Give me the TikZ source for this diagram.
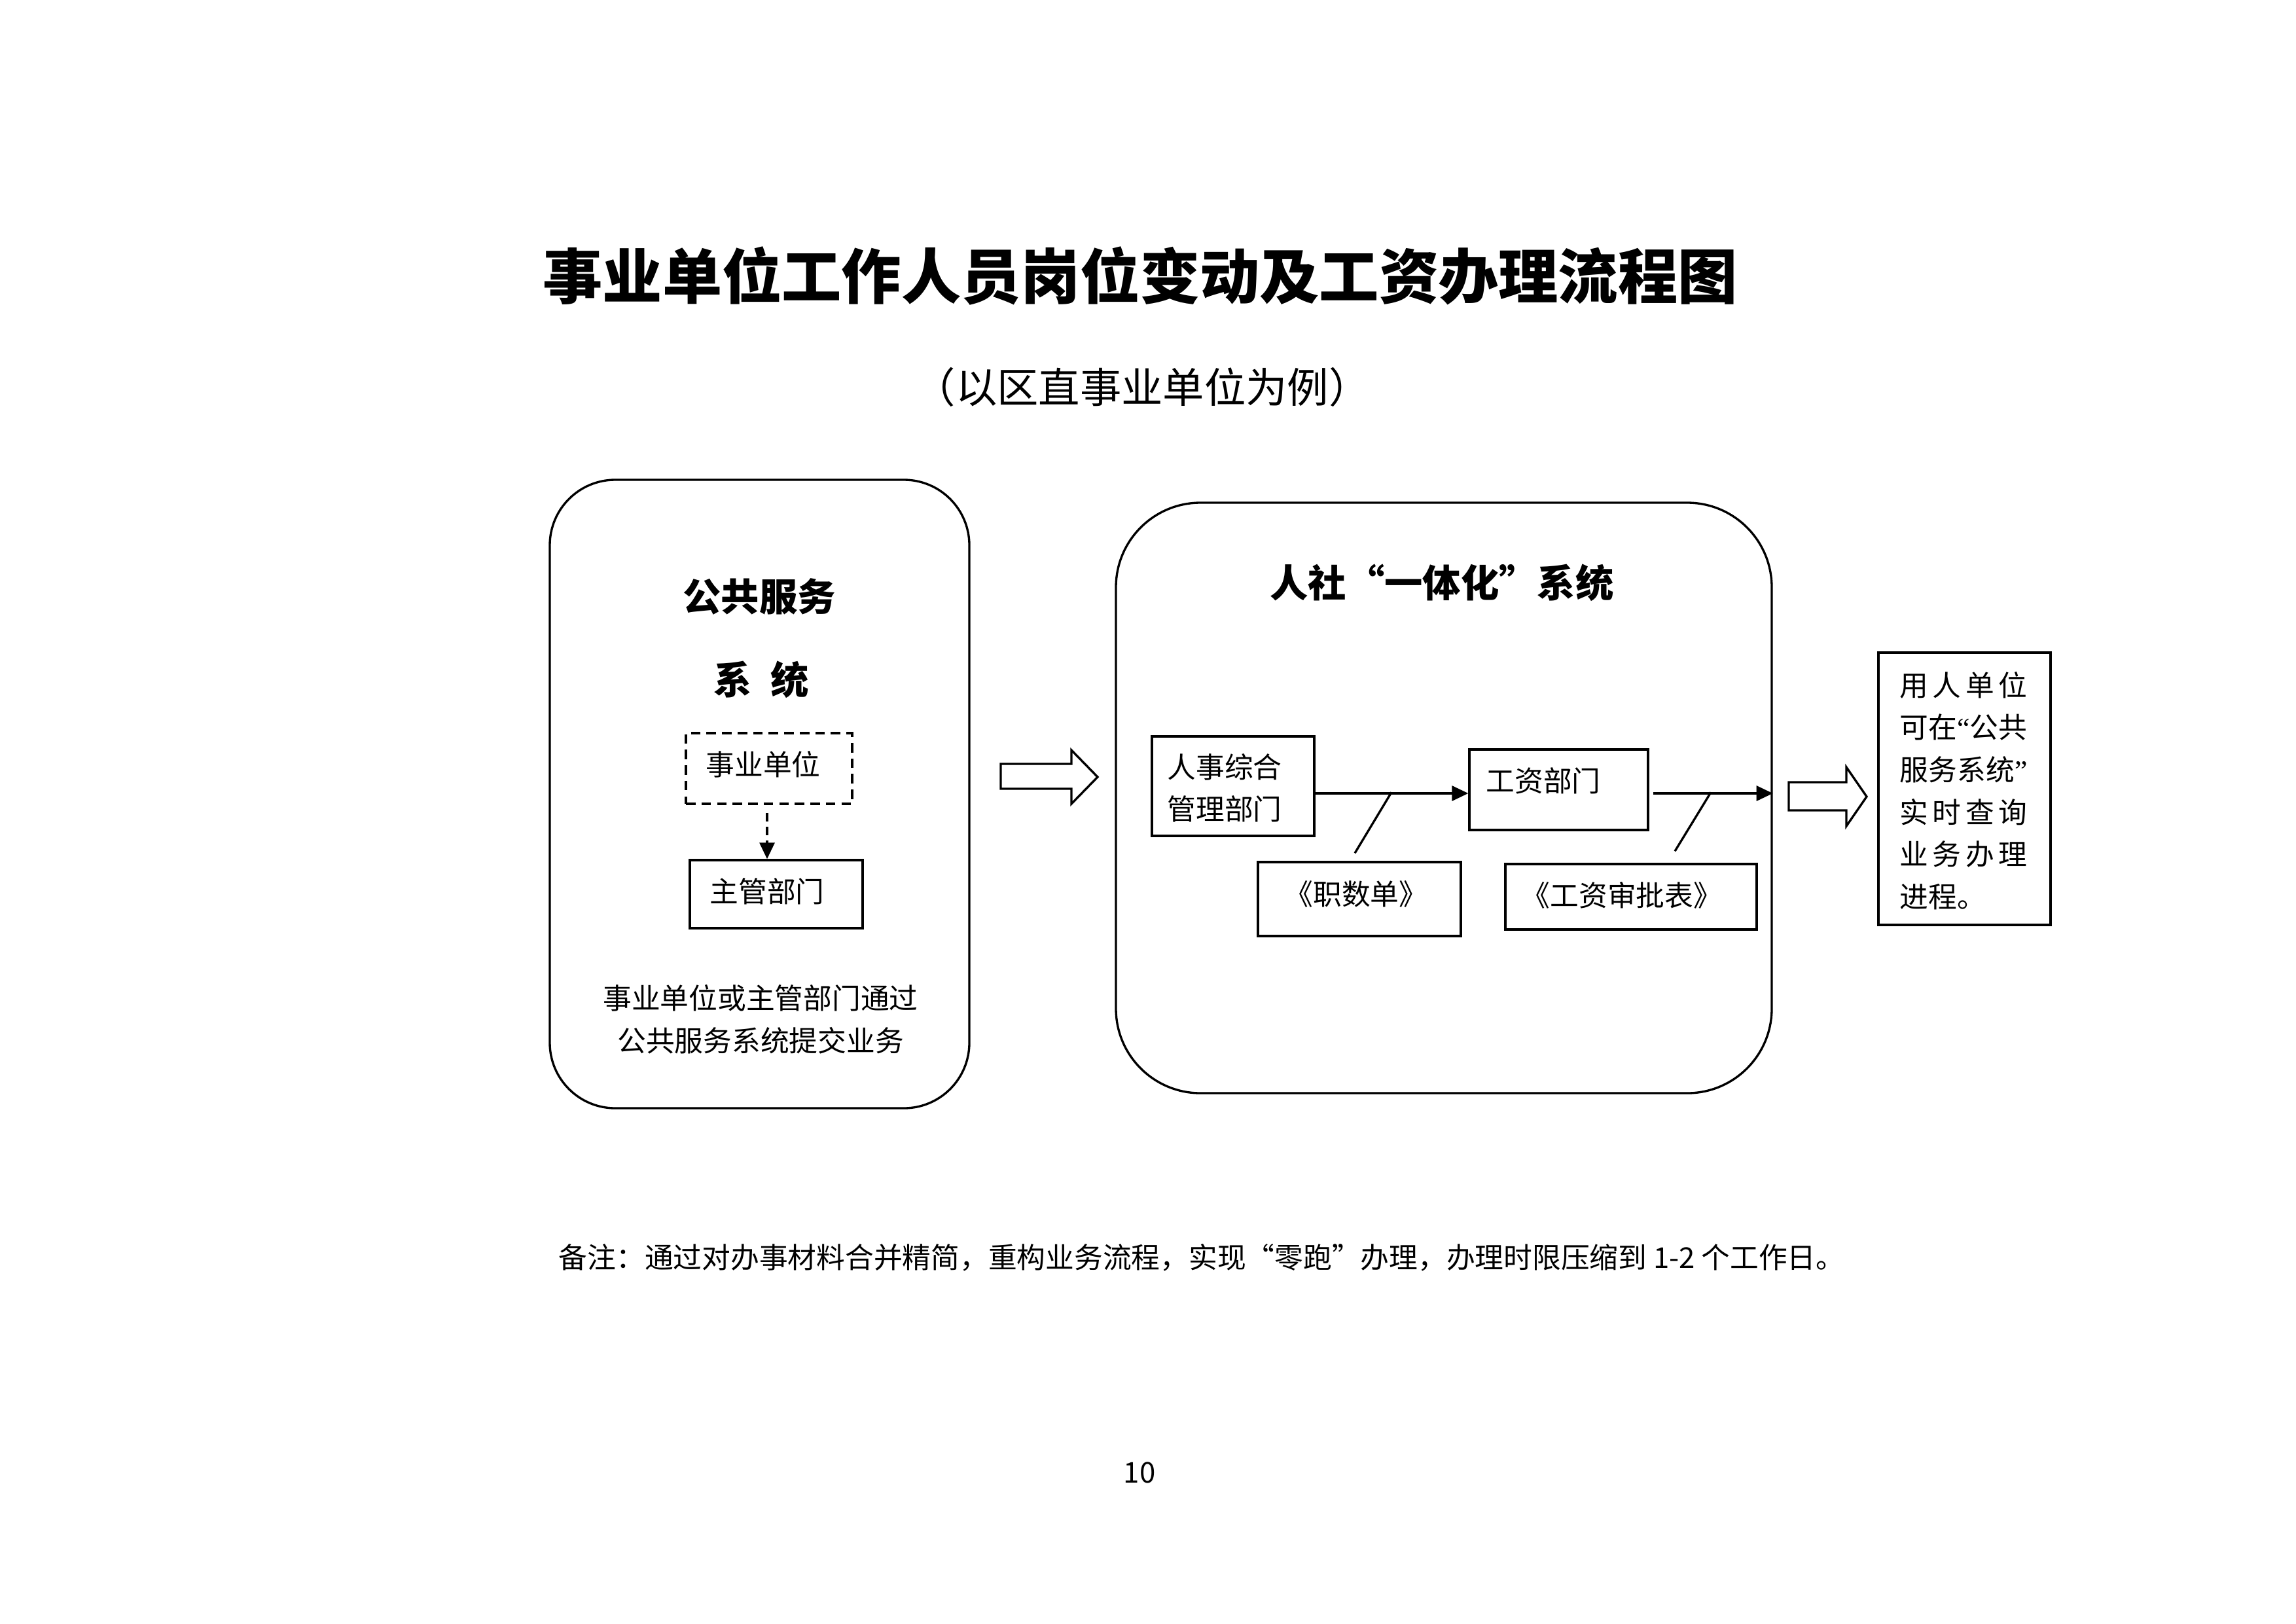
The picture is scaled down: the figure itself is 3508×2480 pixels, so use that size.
\documentclass[tikz,border=0pt]{standalone}
\usepackage{fontspec}
\setmainfont{Noto Sans CJK SC}
\newfontfamily\qfont{Liberation Serif}
\usetikzlibrary{arrows.meta,fit,calc}
\begin{document}
\begin{tikzpicture}[x=0.24pt,y=-0.24pt,
  box/.style={draw, line width=0.8pt, inner sep=0pt},
  dbox/.style={box, dash pattern=on 3.5pt off 2.2pt},
  rbox/.style={box, rounded corners=#1},
  txt/.style={inner sep=0pt, font=\fontsize{10.5}{15.5}\selectfont},
  btxt/.style={inner sep=0pt, font=\fontsize{14}{16}\selectfont\bfseries},
  arr/.style={line width=0.8pt, -{Triangle[length=6pt,width=5.5pt]}},
  conn/.style={line width=0.8pt},
  blockarrow/.style={line width=0.8pt, draw, fill=white}]
\useasboundingbox (0,0) rectangle (3508,2480);

% titles
\node[inner sep=0pt, font=\fontsize{21.9}{26}\selectfont\bfseries] (title) at (1742,421) {事业单位工作人员岗位变动及工资办理流程图};
\node[inner sep=0pt, font=\fontsize{15.2}{18}\selectfont] (subtitle) at (1745,591) {（以区直事业单位为例）};

% left rounded box
\node[rbox=24pt, fit={(840,733) (1481,1693)}] (L) {};
\node[btxt] (Lt1) at (1160,911) {公共服务};
\node[btxt] (Lt2) at (1163,1038) {系\hspace{0.5em}统};
\node[dbox, fit={(1048,1120) (1302,1228)}] (D) {};
\node[txt] (Dt) at (1166,1168) {事业单位};
\node[box, fit={(1054,1314) (1318,1418)}] (Z) {};
\node[txt] (Zt) at (1172,1362) {主管部门};
\draw[arr, dash pattern=on 3pt off 2pt, shorten <=3pt] (D.south -| 1172,0) -- (Z.north -| 1172,0);
\node[txt, align=center] (Lb) at (1162,1557) {事业单位或主管部门通过\\公共服务系统提交业务};

% block arrow 1
\draw[blockarrow] (1529,1167) -- (1637,1167) -- (1637,1146) -- (1677,1187) -- (1637,1228) -- (1637,1205) -- (1529,1205) -- cycle;

% middle rounded box
\node[rbox=31pt, fit={(1705,768) (2707,1670)}] (M) {};
\node[btxt] (Mt) at (2203,890) {人社\makebox[1em][r]{“}一体化\makebox[1em][l]{”}系统};
\node[box, fit={(1760,1125) (2008,1277)}] (B1) {};
\node[txt, align=left, font=\fontsize{10.5}{15.4}\selectfont] (B1t) at (1871,1204) {人事综合\\管理部门};
\node[box, fit={(2245,1145) (2518,1268)}] (B2) {};
\node[txt] (B2t) at (2358,1193) {工资部门};
\node[box, fit={(1922,1317) (2232,1430)}] (J) {};
\node[txt] (Jt) at (2072,1366) {《职数单》};
\node[box, fit={(2300,1320) (2684,1420)}] (W) {};
\node[txt] (Wt) at (2478,1368) {《工资审批表》};
\coordinate (r) at (0,1212);
\draw[arr] (B1.east |- r) -- (B2.west |- r);
\draw[arr, shorten <=1.5pt] (B2.east |- r) -- (M.east |- r);
\draw[conn] ($(J.north)+(-7,-12)$) -- ++(56,-93);
\draw[conn] ($(W.north)+(67,-18)$) -- ++(55,-90);

% block arrow 2
\draw[blockarrow] (2733,1195) -- (2821,1195) -- (2821,1172) -- (2852,1217) -- (2821,1262) -- (2821,1238) -- (2733,1238) -- cycle;

% right box
\node[box, fit={(2870,997) (3133,1413)}] (R) {};
\node[txt, align=left] (Rt) at (3000,1208) {%
\hbox to 46.8pt{用\hfill 人\hfill 单\hfill 位}\\
\hbox to 46.8pt{可\hfill 在\hfill{\qfont “}公\hfill 共}\\
\hbox to 46.8pt{服\hfill 务\hfill 系\hfill 统{\qfont ”}}\\
\hbox to 46.8pt{实\hfill 时\hfill 查\hfill 询}\\
\hbox to 46.8pt{业\hfill 务\hfill 办\hfill 理}\\
\hbox to 46.8pt{进程。\hfill}};

% footnote and page number
\node[txt, anchor=west] (note) at (853,1921) {备注：通过对办事材料合并精简，重构业务流程，实现\makebox[1em][r]{“}零跑\makebox[1em][l]{”}办理，办理时限压缩到 1-2 个工作日。};
\node[txt] (pg) at (1741,2250) {10};
\end{tikzpicture}
\end{document}
